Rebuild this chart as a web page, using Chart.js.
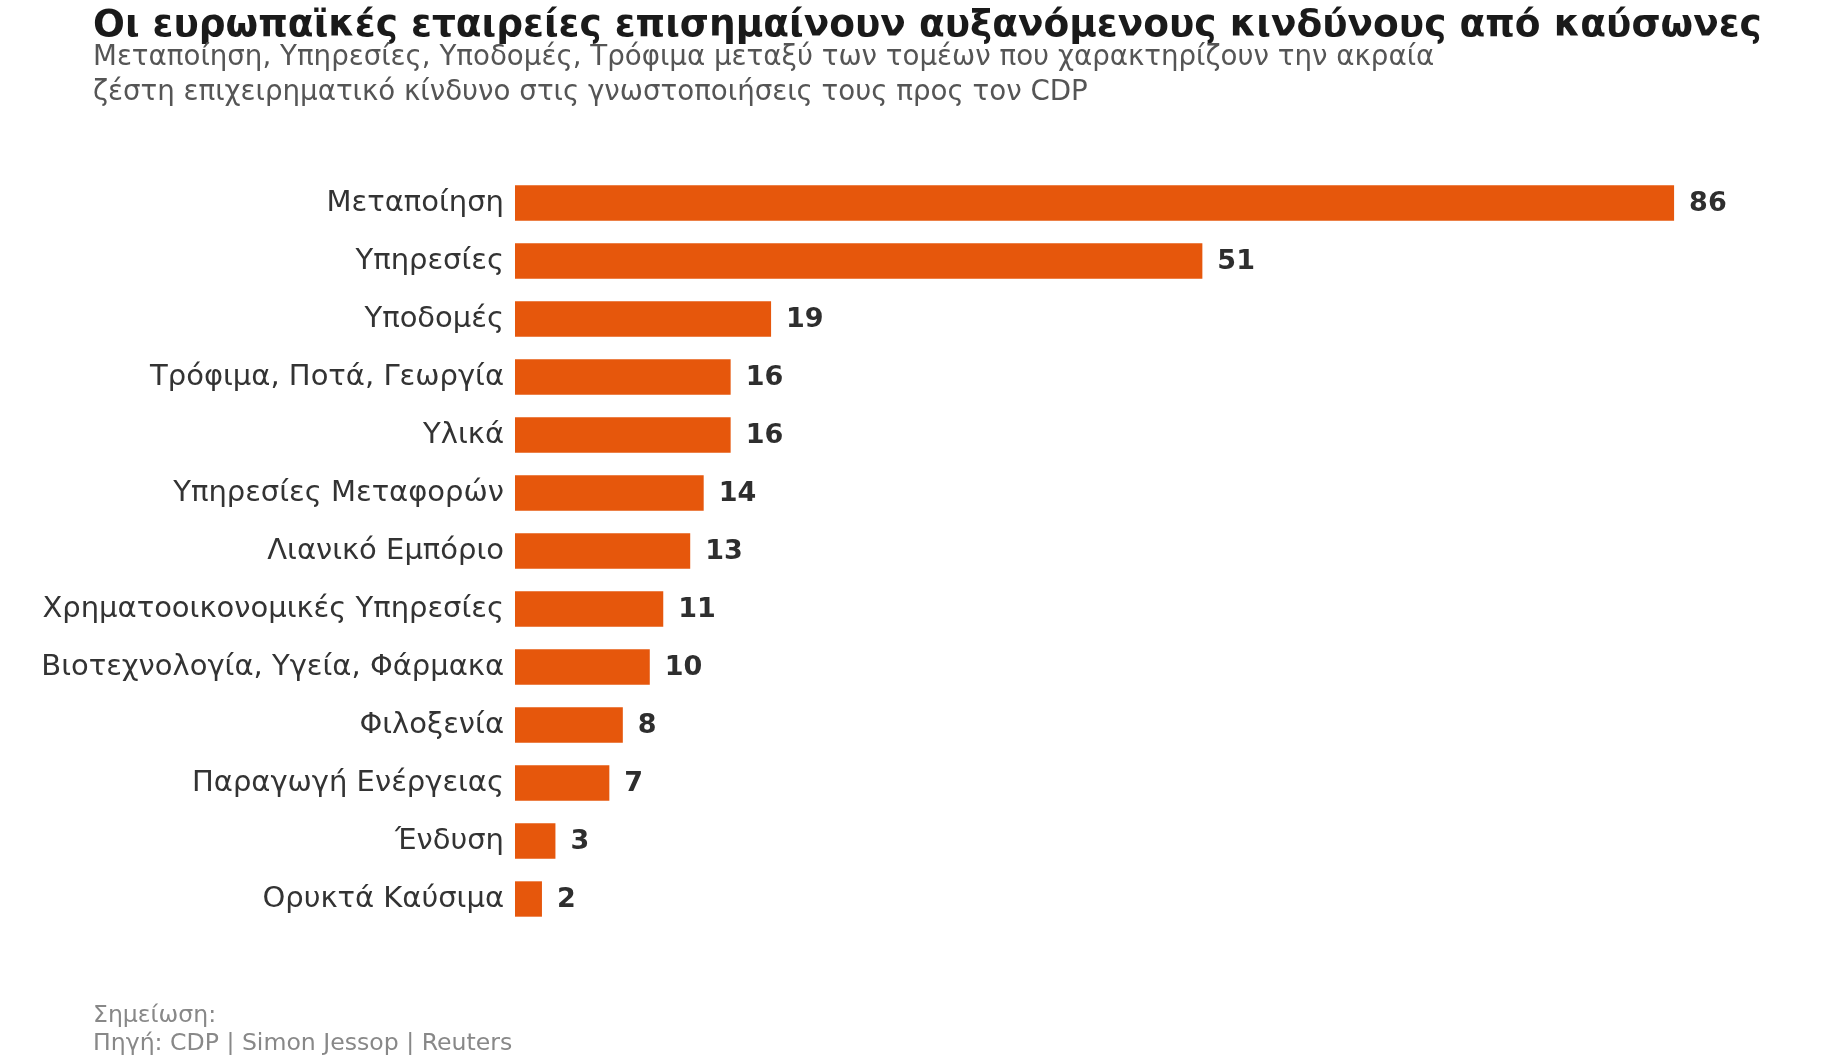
<!DOCTYPE html>
<html>
<head>
<meta charset="utf-8">
<script src="https://cdn.jsdelivr.net/npm/chart.js@4"></script>
<style>
  body { margin: 0; background: #fff; }
  #wrap { position: relative; width: 1839px; height: 1060px; font-family: "DejaVu Sans", sans-serif; }
  #wrap canvas { position: absolute; left: 0; top: 0; }
  .txt { position: absolute; left: 93px; white-space: nowrap; }
  #title { top: 1px; font-size: 37.5px; line-height: 44px; font-weight: bold; color: #1a1a1a; }
  #subtitle { top: 38px; font-size: 27.7px; line-height: 35px; color: #555; }
  #footer { top: 1000px; font-size: 23.6px; line-height: 28px; color: #888; }
</style>
</head>
<body>
<div id="wrap">
  <canvas id="myChart"></canvas>
  <div class="txt" id="title">Οι ευρωπαϊκές εταιρείες επισημαίνουν αυξανόμενους κινδύνους από καύσωνες</div>
  <div class="txt" id="subtitle">Μεταποίηση, Υπηρεσίες, Υποδομές, Τρόφιμα μεταξύ των τομέων που χαρακτηρίζουν την ακραία<br>ζέστη επιχειρηματικό κίνδυνο στις γνωστοποιήσεις τους προς τον CDP</div>
  <div class="txt" id="footer">Σημείωση:<br>Πηγή: CDP | Simon Jessop | Reuters</div>
</div>
<script>
/////////////////////////////
// Data
/////////////////////////////

const sectors = [
  'Μεταποίηση', 'Υπηρεσίες', 'Υποδομές', 'Τρόφιμα, Ποτά, Γεωργία', 'Υλικά',
  'Υπηρεσίες Μεταφορών', 'Λιανικό Εμπόριο', 'Χρηματοοικονομικές Υπηρεσίες',
  'Βιοτεχνολογία, Υγεία, Φάρμακα', 'Φιλοξενία', 'Παραγωγή Ενέργειας', 'Ένδυση', 'Ορυκτά Καύσιμα'
];
const companies = [86, 51, 19, 16, 16, 14, 13, 11, 10, 8, 7, 3, 2];

/////////////////////////////
// Value labels
/////////////////////////////

const valueLabels = {
  id: 'valueLabels',
  afterDatasetsDraw(chart) {
    const ctx = chart.ctx;
    const meta = chart.getDatasetMeta(0);
    ctx.save();
    ctx.font = 'bold 27px "DejaVu Sans"';
    ctx.fillStyle = '#2e2e2e';
    ctx.textAlign = 'left';
    ctx.textBaseline = 'middle';
    meta.data.forEach((bar, i) => {
      ctx.fillText(companies[i], bar.x + 15, bar.y + 1);
    });
    ctx.restore();
  }
};

/////////////////////////////
// Chart
/////////////////////////////

const ctx = document.getElementById('myChart').getContext('2d');
const myChart = new Chart(ctx, {
  type: 'bar',
  data: {
    labels: sectors,
    datasets: [{
      data: companies,
      backgroundColor: '#e6570c',
      borderWidth: 0,
      barPercentage: 0.61,
      categoryPercentage: 1
    }]
  },
  options: {
    indexAxis: 'y',
    responsive: true,
    maintainAspectRatio: false,
    animation: false,
    layout: { padding: { top: 174, bottom: 132, left: 0, right: 111 } },
    plugins: {
      legend: { display: false },
      tooltip: { enabled: false }
    },
    scales: {
      x: { display: false, min: 0, max: 90 },
      y: {
        grid: { display: false, drawTicks: false },
        border: { display: false },
        ticks: {
          padding: 11,
          color: '#333',
          font: { family: 'DejaVu Sans', size: 29 }
        },
        afterFit(scale) { scale.width = 515; }
      }
    }
  },
  plugins: [valueLabels]
});
</script>
</body>
</html>
